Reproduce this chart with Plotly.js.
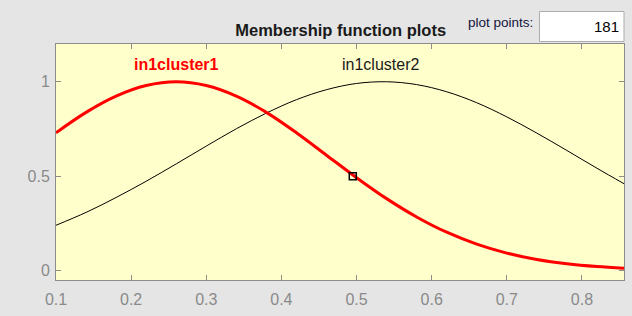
<!DOCTYPE html>
<html>
<head>
<meta charset="utf-8">
<script src="https://cdn.plot.ly/plotly-3.0.1.min.js"></script>
<style>html,body{margin:0;padding:0;background:#e5e5e5;}#chart{width:632px;height:316px;}</style>
</head>
<body>
<div id="chart"></div>
<script>
// sampled x positions
const xs = [0.10,0.14,0.18,0.22,0.26,0.30,0.34,0.38,0.42,0.46,0.50,0.54,0.58,0.62,0.66,0.70,0.74,0.78,0.82,0.856];
// in1cluster1 membership values
const cluster1 = [0.730,0.838,0.924,0.980,1.000,0.980,0.924,0.838,0.730,0.611,0.492,0.381,0.284,0.203,0.140,0.0925,0.0588,0.0359,0.0211,0.0127];
// in1cluster2 membership values
const cluster2 = [0.240,0.308,0.387,0.473,0.565,0.659,0.751,0.834,0.905,0.958,0.991,1.000,0.985,0.947,0.889,0.814,0.728,0.636,0.542,0.460];
const mfNames = ['in1cluster1','in1cluster2'];
const labelX = [0.26, 0.532];
const labelY = [1.09, 1.09];
const markerX = [0.495];
const markerY = [0.5];
const xTicks = [0.1,0.2,0.3,0.4,0.5,0.6,0.7,0.8];
const yTicks = [0,0.5,1];
const plotPoints = '181';

const FONT = 'Arial, Liberation Sans, sans-serif';
const traces = [
  {x: xs, y: cluster2, mode:'lines', line:{color:'#000000', width:1, shape:'spline'}, hoverinfo:'skip'},
  {x: xs, y: cluster1, mode:'lines', line:{color:'#ff0000', width:3, shape:'spline'}, hoverinfo:'skip'},
  {x: markerX, y: markerY, mode:'markers', marker:{symbol:'square-open', size:7, color:'#000000', line:{width:1.5}}, hoverinfo:'skip'}
];

const axBase = {
  showgrid:false, zeroline:false, showline:true, mirror:'ticks', linecolor:'#8c8c8c', linewidth:1,
  ticks:'inside', ticklen:5, tickcolor:'#8c8c8c', tickfont:{family:FONT, size:16, color:'#8a8a8a'}
};

const layout = {
  width:632, height:316,
  paper_bgcolor:'#e5e5e5', plot_bgcolor:'#ffffcc',
  margin:{l:56, r:8, t:44, b:36},
  showlegend:false,
  title:{text:'<b>Membership function plots</b>', font:{family:FONT, size:16.5, color:'#1a1a1a'}, x:0.539, xanchor:'center', y:0.905, yanchor:'middle'},
  xaxis: Object.assign({}, axBase, {range:[0.1,0.856], tickvals:xTicks, ticktext:xTicks.map(v=>String(v)), ticklabelstandoff:5}),
  yaxis: Object.assign({}, axBase, {range:[-0.05,1.2], tickvals:yTicks, ticktext:yTicks.map(v=>String(v)), ticklabelstandoff:2}),
  annotations:[
    {x:labelX[0], y:labelY[0], xref:'x', yref:'y', text:'<b>'+mfNames[0]+'</b>', showarrow:false, font:{family:FONT, size:16, color:'#ff0000'}},
    {x:labelX[1], y:labelY[1], xref:'x', yref:'y', text:mfNames[1], showarrow:false, font:{family:FONT, size:16, color:'#1a1a1a'}},
    {x:0, y:0, xref:'paper', yref:'paper', text:'plot points:', showarrow:false, xanchor:'right', yanchor:'middle', font:{family:FONT, size:13.5, color:'#14143c'}},
    {x:0, y:0, xref:'paper', yref:'paper', text:plotPoints, showarrow:false, xanchor:'right', yanchor:'middle', font:{family:FONT, size:15, color:'#000000'}}
  ],
  shapes:[]
};
// convert pixel positions for the header widgets into paper coordinates
const pw = 632-56-8, ph = 316-44-36;
function px(x){return (x-56)/pw;}
function py(y){return (316-36-y)/ph;}
layout.annotations[2].x = px(535); layout.annotations[2].y = py(22);
layout.annotations[3].x = px(621); layout.annotations[3].y = py(27);
layout.shapes.push({type:'rect', xref:'paper', yref:'paper', x0:px(539.5), x1:px(624), y0:py(41.5), y1:py(11.5), fillcolor:'#ffffff', line:{color:'#adadad', width:1}, layer:'above'});

Plotly.newPlot('chart', traces, layout, {displayModeBar:false, staticPlot:true});
</script>
</body>
</html>
